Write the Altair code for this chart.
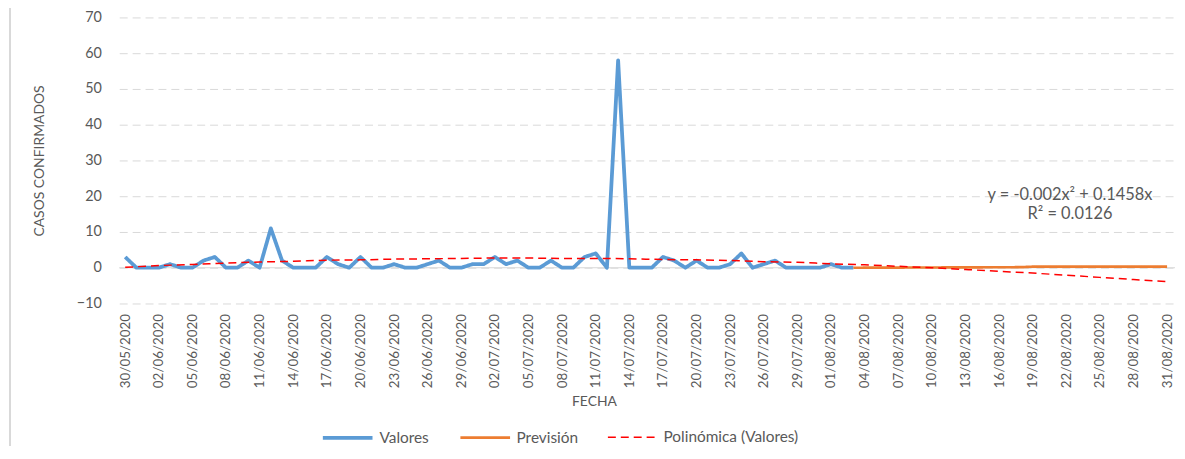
import altair as alt
import pandas as pd

# ---- data ----
inicio = "2020-05-30"
valores = [3, 0, 0, 0, 1, 0, 0, 2, 3, 0, 0, 2, 0, 11,
           2, 0, 0, 0, 3, 1, 0, 3, 0, 0, 1, 0, 0, 1, 2, 0, 0, 1, 1, 3,
           1, 2, 0, 0, 2, 0, 0, 3, 4, 0, 58, 0, 0, 0, 3, 2, 0, 2, 0, 0,
           1, 4, 0, 1, 2, 0, 0, 0, 0, 1, 0, 0]
inicio_prevision = 65  # 03/08/2020
prevision = [0.0, 0.01, 0.02, 0.03, 0.04, 0.05, 0.06, 0.07, 0.08, 0.09,
             0.10, 0.11, 0.12, 0.13, 0.14, 0.16, 0.30, 0.30, 0.30, 0.30,
             0.30, 0.30, 0.30, 0.30, 0.30, 0.30, 0.30, 0.30, 0.30]
# polynomial trendline read every 3 days from 30/05 to 31/08
tendencia = [0.1, 0.6, 0.9, 1.3, 1.6, 1.8, 2.1, 2.2, 2.4, 2.5, 2.6, 2.7, 2.7,
             2.6, 2.6, 2.5, 2.3, 2.2, 2.0, 1.7, 1.5, 1.1, 0.8, 0.4, 0.0,
             -0.5, -1.0, -1.5, -2.1, -2.7, -3.3, -3.9]
series = ["Valores", "Previsión", "Polinómica (Valores)"]
colores = ["#5b9bd5", "#ed7d31", "#ff0000"]
ecuacion = ["y = -0.002x² + 0.1458x", "R² = 0.0126"]
ecuacion_y = [20.3, 14.9]
ecuacion_fecha = "2020-08-22T08:00:00"
ticks_y = [-10, 0, 10, 20, 30, 40, 50, 60, 70]

t0 = pd.Timestamp(inicio)
fmt = "%Y-%m-%dT%H:%M:%S"
rows = []
for i, v in enumerate(valores):
    rows.append({"fecha": (t0 + pd.Timedelta(days=i)).strftime(fmt), "valor": v, "serie": series[0]})
for i, v in enumerate(prevision):
    rows.append({"fecha": (t0 + pd.Timedelta(days=inicio_prevision + i)).strftime(fmt), "valor": v, "serie": series[1]})
for i, v in enumerate(tendencia):
    rows.append({"fecha": (t0 + pd.Timedelta(days=3 * i)).strftime(fmt), "valor": v, "serie": series[2]})
df = pd.DataFrame(rows)

tick_dates = [t0 + pd.Timedelta(days=3 * i) for i in range(32)]
tick_vals = [alt.DateTime(year=d.year, month=d.month, date=d.day) for d in tick_dates]

GRAY = "#595959"
FONT = "Lato"

x_enc = alt.X(
    "fecha:T",
    scale=alt.Scale(domain=[alt.DateTime(year=2020, month=5, date=29, hours=11, minutes=15),
                            alt.DateTime(year=2020, month=8, date=31, hours=17)]),
    axis=alt.Axis(values=tick_vals, format="%d/%m/%Y", labelAngle=270, labelAlign="right",
                  labelBaseline="middle", labelPadding=10, tickSize=0, domain=False, grid=False,
                  labelFont=FONT, labelFontSize=13.5, labelColor=GRAY, labelOverlap=False,
                  labelFlush=False, labelBound=False,
                  title="FECHA", titleFont=FONT, titleFontSize=14, titleFontWeight="normal",
                  titleColor=GRAY, titleX=478, titleY=99, titleBaseline="middle",
                  titleAlign="center"),
)
y_enc = alt.Y(
    "valor:Q",
    scale=alt.Scale(domain=[-10, 70], nice=False, zero=False),
    axis=alt.Axis(values=ticks_y, tickSize=0, domain=False, labelPadding=18,
                  labelFont=FONT, labelFontSize=14.5, labelColor=GRAY, labelOverlap=False,
                  labelFlush=False, labelBound=False,
                  grid=True, gridColor="#d9d9d9", gridDash=[8, 5], gridWidth=1,
                  title="CASOS CONFIRMADOS", titleFont=FONT, titleFontSize=14,
                  titleFontWeight="normal", titleColor=GRAY, titleAngle=270,
                  titleX=-80, titleY=144, titleAlign="center", titleBaseline="middle"),
)
color_enc = alt.Color("serie:N", scale=alt.Scale(domain=series, range=colores),
                      legend=alt.Legend(title=None))
dash_enc = alt.StrokeDash("serie:N", scale=alt.Scale(domain=series, range=[[1, 0], [1, 0], [8, 5]]),
                          legend=alt.Legend(title=None))
width_enc = alt.StrokeWidth("serie:N", scale=alt.Scale(domain=series, range=[3.8, 1.5, 1.5]),
                            legend=alt.Legend(title=None))

base = alt.Chart(df).encode(x=x_enc, y=y_enc, color=color_enc, strokeDash=dash_enc,
                            strokeWidth=width_enc)

cero = alt.Chart(pd.DataFrame({"valor": [0]})).mark_rule(color="#d9d9d9", strokeWidth=1).encode(
    y=y_enc)
marco = alt.Chart(pd.DataFrame({"valor": [0]})).mark_rule(color="#d9d9d9", strokeWidth=2).encode(
    x=alt.value(-110), y=alt.value(-20), y2=alt.value(600))

l_val = base.transform_filter(alt.datum.serie == series[0]).mark_line(strokeJoin="round")
l_prev = base.transform_filter(alt.datum.serie == series[1]).mark_line()
l_tend = base.transform_filter(alt.datum.serie == series[2]).mark_line(interpolate="monotone")

texto = alt.Chart(pd.DataFrame({"fecha": [ecuacion_fecha] * 2, "valor": ecuacion_y,
                                "texto": ecuacion})).mark_text(
    font=FONT, fontSize=16.5, color=GRAY, align="center", baseline="middle").encode(
    x=x_enc, y=y_enc, text="texto:N")

chart = alt.layer(cero, marco, l_val, l_prev, l_tend, texto).properties(
    width=1063, height=288,
    autosize=alt.AutoSizeParams(type="none"),
    padding={"left": 112, "top": 8, "right": 2, "bottom": 142},
).configure_view(stroke=None).configure_axis(
    labelOverlap=False
).configure_legend(
    orient="none", legendX=203, legendY=396, direction="horizontal",
    symbolType="stroke", symbolSize=2500, labelFont=FONT, labelFontSize=15.5,
    labelColor=GRAY, columnPadding=26, labelOffset=5, labelLimit=300,
)

chart.save("out.html", embed_options={"renderer": "svg", "actions": False})
